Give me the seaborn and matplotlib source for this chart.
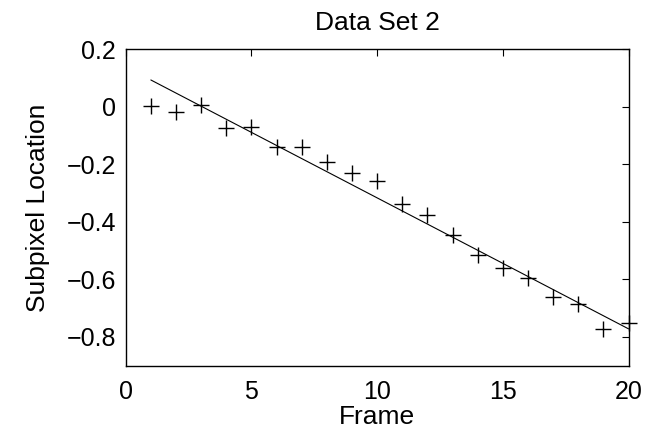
import matplotlib
matplotlib.use("Agg")
import matplotlib.pyplot as plt
import seaborn as sns
import pandas as pd

frames = [1, 2, 3, 4, 5, 6, 7, 8, 9, 10, 11, 12, 13, 14, 15, 16, 17, 18, 19, 20]
subpixel = [0.002, -0.019, 0.005, -0.073, -0.071, -0.141, -0.139, -0.194, -0.232, -0.257,
            -0.337, -0.378, -0.447, -0.515, -0.560, -0.597, -0.661, -0.684, -0.772, -0.753]
fit_x = [1, 20]
fit_y = [0.0925, -0.772]
xticks = [0, 5, 10, 15, 20]
yticks = [0.2, 0, -0.2, -0.4, -0.6, -0.8]
ytick_labels = ["0.2", "0", "\u22120.2", "\u22120.4", "\u22120.6", "\u22120.8"]

sns.set_style("white")
plt.rcParams["font.family"] = ["Liberation Sans", "DejaVu Sans"]
plt.rcParams["text.color"] = "black"
plt.rcParams["axes.labelcolor"] = "black"
plt.rcParams["xtick.color"] = "black"
plt.rcParams["ytick.color"] = "black"

df = pd.DataFrame({"Frame": frames, "Subpixel": subpixel})
fit = pd.DataFrame({"x": fit_x, "y": fit_y})

fig = plt.figure(figsize=(6.48, 4.30), dpi=100)
ax = fig.add_axes([0.194, 0.1495, 0.776, 0.7365])

sns.lineplot(data=fit, x="x", y="y", ax=ax, color="black", linewidth=0.8)
sns.scatterplot(data=df, x="Frame", y="Subpixel", ax=ax, marker="+", s=120,
                color="black", linewidth=1.0, clip_on=False, zorder=3)

ax.set_xlim(0, 20)
ax.set_ylim(-0.9, 0.2)
ax.set_xticks(xticks)
ax.set_xticklabels([str(t) for t in xticks])
ax.set_yticks(yticks)
ax.set_yticklabels(ytick_labels)

for s in ax.spines.values():
    s.set_visible(True)
    s.set_color("black")
    s.set_linewidth(1.0)

ax.tick_params(axis="both", direction="in", length=5, width=0.8, colors="black",
               labelcolor="black", top=True, right=True, labelsize=18)
ax.tick_params(axis="x", pad=10)
ax.tick_params(axis="y", pad=7)

ax.set_xlabel("Frame", fontsize=19, labelpad=1, color="black")
ax.set_ylabel("Subpixel Location", fontsize=19, labelpad=12, color="black")
ax.set_title("Data Set 2", fontsize=19, pad=14, color="black")

fig.savefig("out.png", dpi=100, facecolor="white")
